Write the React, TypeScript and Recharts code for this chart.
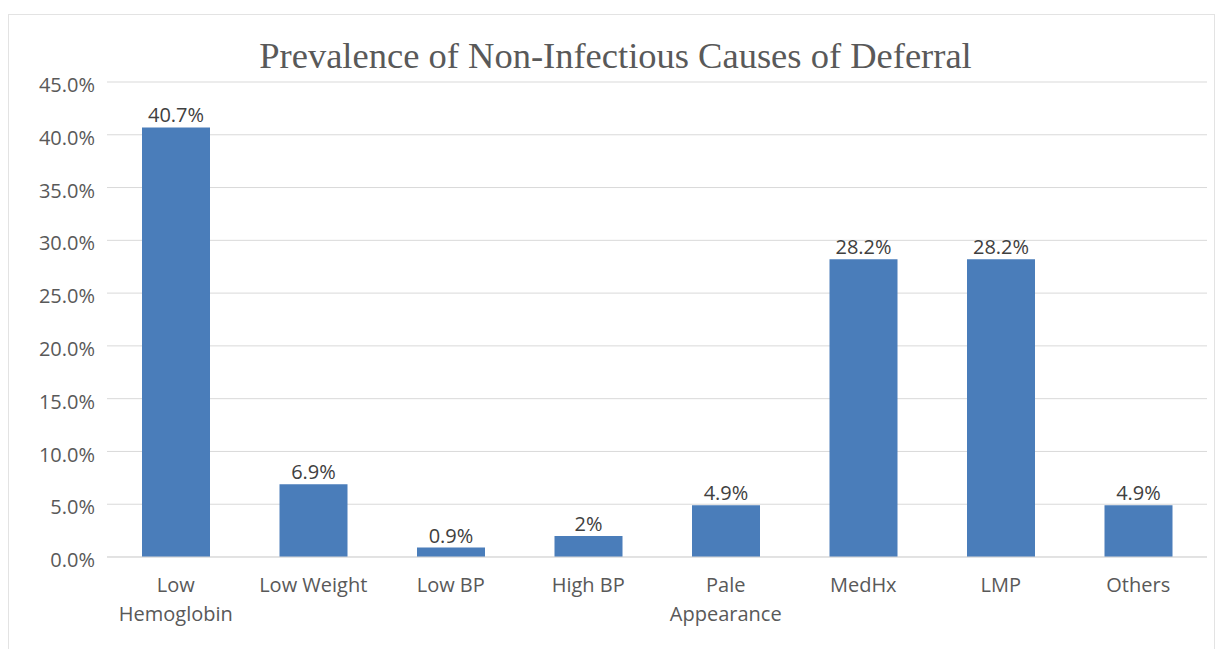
import React from "react";
import {
  BarChart,
  Bar,
  XAxis,
  YAxis,
  CartesianGrid,
  LabelList,
} from "recharts";

const causes = [
  "Low Hemoglobin",
  "Low Weight",
  "Low BP",
  "High BP",
  "Pale Appearance",
  "MedHx",
  "LMP",
  "Others",
];
const prevalence = [0.407, 0.069, 0.009, 0.02, 0.049, 0.282, 0.282, 0.049];
const valueLabels = ["40.7%", "6.9%", "0.9%", "2%", "4.9%", "28.2%", "28.2%", "4.9%"];
const yTicks = [0, 0.05, 0.1, 0.15, 0.2, 0.25, 0.3, 0.35, 0.4, 0.45];

const data = causes.map((name, i) => ({
  name,
  value: prevalence[i],
  label: valueLabels[i],
}));

const FONT = "'Open Sans', 'Noto Sans', sans-serif";
const GREY = "#595959";

// Excel-style wrapping: long names go onto two lines
function CategoryTick(props: any) {
  const { x, y, payload } = props;
  const text: string = payload.value;
  const lines = text.length > 11 ? text.split(" ") : [text];
  return (
    <g transform={`translate(${x},${y})`}>
      {lines.map((l, i) => (
        <text
          key={i}
          x={0}
          y={i * 29}
          dy={27}
          textAnchor="middle"
          fill={GREY}
          fontSize={20}
          fontFamily={FONT}
        >
          {l}
        </text>
      ))}
    </g>
  );
}

export default function App() {
  return (
    <div
      style={{
        position: "absolute",
        left: 0,
        top: 0,
        width: 1221,
        height: 649,
        background: "#fff",
        overflow: "hidden",
      }}
    >
      <div
        style={{
          position: "absolute",
          left: 8,
          top: 14,
          width: 1205,
          height: 650,
          border: "1px solid #e3e3e3",
        }}
      />
      <div
        style={{
          position: "absolute",
          left: 0,
          top: 36,
          width: 1231,
          textAlign: "center",
          fontFamily: "'Liberation Serif', 'DejaVu Serif', serif",
          fontSize: 36.5,
          color: GREY,
          lineHeight: "40px",
        }}
      >
        Prevalence of Non-Infectious Causes of Deferral
      </div>
      <div style={{ position: "absolute", left: 0, top: 0 }}>
        <BarChart
          width={1221}
          height={649}
          data={data}
          margin={{ top: 82, right: 14, bottom: 0, left: 17 }}
          barCategoryGap={0}
        >
          <CartesianGrid vertical={false} stroke="#d9d9d9" />
          <XAxis
            dataKey="name"
            axisLine={{ stroke: "#d9d9d9" }}
            tickLine={false}
            interval={0}
            tick={<CategoryTick />}
            height={92}
          />
          <YAxis
            width={90}
            domain={[0, 0.45]}
            ticks={yTicks}
            axisLine={false}
            tickLine={false}
            tickMargin={6}
            tickFormatter={(v: number) => (v * 100).toFixed(1) + "%"}
            tick={{ fill: GREY, fontSize: 20, fontFamily: FONT, dy: 3 }}
          />
          <Bar dataKey="value" fill="#4a7dba" barSize={68} isAnimationActive={false}>
            <LabelList
              dataKey="label"
              position="top"
              offset={5}
              fill="#404040"
              fontSize={20}
              fontFamily={FONT}
            />
          </Bar>
        </BarChart>
      </div>
    </div>
  );
}
